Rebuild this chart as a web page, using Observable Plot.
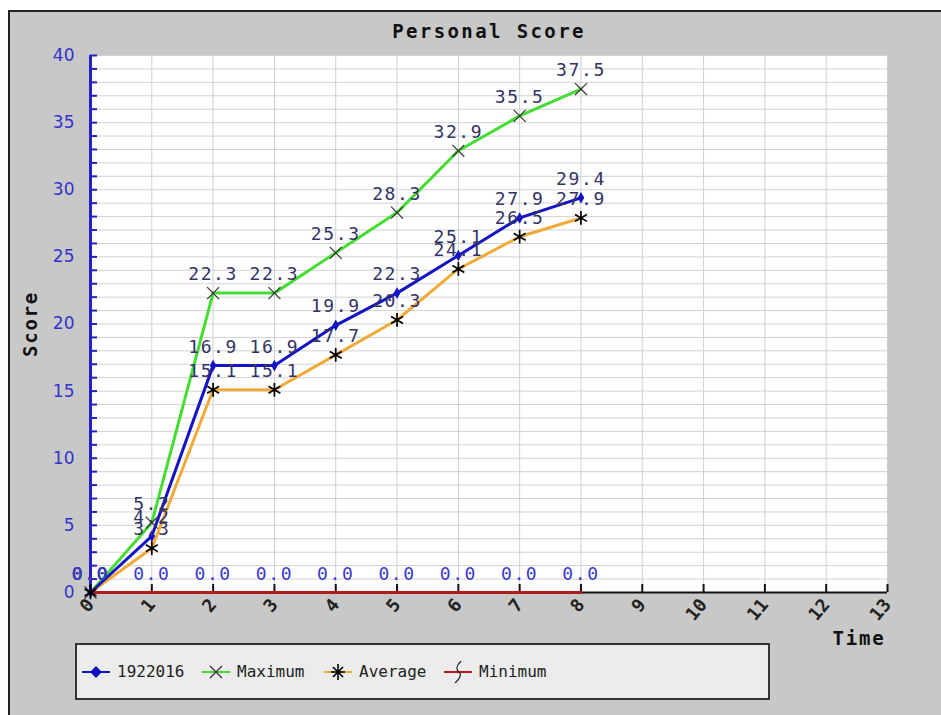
<!DOCTYPE html>
<html><head><meta charset="utf-8">
<script src="https://cdn.jsdelivr.net/npm/d3@7"></script>
<script src="https://cdn.jsdelivr.net/npm/@observablehq/plot@0.6"></script>
<style>
body{margin:0;background:#fff;}
#wrap{position:relative;width:941px;height:715px;overflow:hidden;}
#bg{position:absolute;left:8px;top:10px;right:0;bottom:0;background:#c8c8c8;border-left:2px solid #222;border-top:2px solid #222;}
#chart{position:absolute;left:0;top:0;}
#legend{position:absolute;left:75px;top:643px;width:691px;height:53px;background:#ececec;border:2px solid #333;font-family:"DejaVu Sans Mono";font-size:16px;color:#222;}
.item{position:absolute;top:0;height:53px;display:flex;align-items:center;}
.item svg{margin-right:6px;}
</style></head><body>
<div id="wrap"><div id="bg"></div><div id="chart"></div><div id="legend"></div></div>
<script>
const title = "Personal Score";
const xLabel = "Time";
const yLabel = "Score";
const times = [0, 1, 2, 3, 4, 5, 6, 7, 8];
const seriesNames = ["1922016", "Maximum", "Average", "Minimum"];
const student = [0, 4.2, 16.9, 16.9, 19.9, 22.3, 25.1, 27.9, 29.4];
const maximum = [0, 5.2, 22.3, 22.3, 25.3, 28.3, 32.9, 35.5, 37.5];
const average = [0, 3.3, 15.1, 15.1, 17.7, 20.3, 24.1, 26.5, 27.9];
const minimum = [0, 0, 0, 0, 0, 0, 0, 0, 0];
const xTicks = [0, 1, 2, 3, 4, 5, 6, 7, 8, 9, 10, 11, 12, 13];
const yMinorTicks = d3.range(0, 41, 1);
const yTickLabels = [0, 5, 10, 15, 20, 25, 30, 35, 40];

const colors = {"1922016": "#1414c4", "Maximum": "#44dd33", "Average": "#f0aa38", "Minimum": "#b01c1c"};
const valuesBySeries = {"1922016": student, "Maximum": maximum, "Average": average, "Minimum": minimum};
const rowsFor = name => times.map((t, j) => ({series: name, time: t, score: valuesBySeries[name][j]}));
const rows = {};
for (const n of seriesNames) rows[n] = rowsFor(n);

const monoLabel = {fontFamily: "DejaVu Sans Mono", fontSize: 18, dy: -13, lineAnchor: "bottom"};
const labelOf = d => d.score.toFixed(1);

const chart = Plot.plot({
  width: 941,
  height: 640,
  marginLeft: 90,
  marginRight: 54,
  marginTop: 55,
  marginBottom: 48,
  style: {background: "transparent", overflow: "visible"},
  x: {domain: [0, 13]},
  y: {domain: [0, 40]},
  marks: [
    Plot.frame({fill: "white", stroke: null}),
    Plot.ruleY(yMinorTicks.slice(1), {stroke: "#d2d2d2", strokeWidth: 1}),
    Plot.ruleX(xTicks.slice(1), {stroke: "#cfcfcf", strokeWidth: 1}),
    // y axis ticks (inward) and line
    Plot.axisY({ticks: yMinorTicks, tickSize: -7, tickFormat: () => "", stroke: "#2222c0", strokeWidth: 2, label: null}),
    Plot.ruleX([0], {stroke: "#2222c0", strokeWidth: 3}),
    Plot.axisY({ticks: yTickLabels, tickSize: 0, tickPadding: 16, fill: "#3333cc", fontFamily: "DejaVu Sans", fontSize: 17, label: null}),
    // x axis
    Plot.axisX({ticks: xTicks, tickSize: -8, tickFormat: () => "", stroke: "#111", strokeWidth: 2, label: null}),
    Plot.ruleY([0], {stroke: "#111", strokeWidth: 2}),
    Plot.axisX({ticks: xTicks, tickSize: 0, tickPadding: 9, tickRotate: -50, fill: "#222", fontFamily: "DejaVu Sans Mono", fontWeight: "bold", fontSize: 18, label: null}),
    // lines
    Plot.line(rows["Maximum"], {x: "time", y: "score", stroke: colors["Maximum"], strokeWidth: 3}),
    Plot.line(rows["Average"], {x: "time", y: "score", stroke: colors["Average"], strokeWidth: 3}),
    Plot.line(rows["1922016"], {x: "time", y: "score", stroke: colors["1922016"], strokeWidth: 3}),
    Plot.line(rows["Minimum"], {x: "time", y: "score", stroke: colors["Minimum"], strokeWidth: 3}),
    // markers
    Plot.dot(rows["1922016"], {x: "time", y: "score", symbol: "diamond", r: 3.5, fill: colors["1922016"]}),
    Plot.dot(rows["Maximum"], {x: "time", y: "score", symbol: "times", r: 5.5, stroke: "#333", strokeWidth: 1.2}),
    Plot.dot(rows["Average"], {x: "time", y: "score", symbol: "asterisk", r: 6.5, stroke: "#000", strokeWidth: 1.7}),
    // value labels (text marks 1-4)
    Plot.text(rows["1922016"], {x: "time", y: "score", text: labelOf, fill: "#333366", ...monoLabel}),
    Plot.text(rows["Maximum"], {x: "time", y: "score", text: labelOf, fill: "#333366", ...monoLabel}),
    Plot.text(rows["Average"], {x: "time", y: "score", text: labelOf, fill: "#333366", ...monoLabel}),
    Plot.text(rows["Minimum"], {x: "time", y: "score", text: labelOf, fill: "#3a3ad0", ...monoLabel}),
    // titles (text marks 5-7)
    Plot.text([title], {frameAnchor: "top", textAnchor: "middle", dy: -18, lineAnchor: "bottom", fontFamily: "DejaVu Sans Mono", fontWeight: "bold", fontSize: 19, fill: "#111"}),
    Plot.text([xLabel], {frameAnchor: "bottom-right", textAnchor: "end", dx: -2, dy: 52, lineAnchor: "bottom", fontFamily: "DejaVu Sans Mono", fontWeight: "bold", fontSize: 19, fill: "#111"}),
    Plot.text([yLabel], {frameAnchor: "left", textAnchor: "middle", dx: -60, rotate: -90, fontFamily: "DejaVu Sans Mono", fontWeight: "bold", fontSize: 19, fill: "#111"})
  ]
});
// letter spacing for the wide bitmap-like fonts of the original
const textGroups = chart.querySelectorAll('g[aria-label="text"]');
const spacing = [1.6, 1.6, 1.6, 1.6, 2.4, 1.8, 1.8];
textGroups.forEach((g, i) => { if (spacing[i] != null) g.style.letterSpacing = spacing[i] + "px"; });
document.getElementById("chart").appendChild(chart);

// legend
const legend = document.getElementById("legend");
const legendX = [4, 124, 246, 366];
const symbolSvg = {
  "1922016": c => `<path d="M15,5 L21,11 L15,17 L9,11 Z" fill="${c}"/>`,
  "Maximum": c => `<path d="M9,5 L21,17 M21,5 L9,17" stroke="#333" stroke-width="1.3" fill="none"/>`,
  "Average": c => `<path d="M15,3 V19 M8,11 H22 M10,6 L20,16 M20,6 L10,16" stroke="#000" stroke-width="1.6" fill="none"/>`,
  "Minimum": c => `<path d="M18,0 Q11,7 16,11 Q20,15 12,22" stroke="#222" stroke-width="1.2" fill="none"/>`
};
seriesNames.forEach((name, i) => {
  const el = document.createElement("div");
  el.className = "item";
  el.style.left = legendX[i] + "px";
  const c = colors[name];
  el.innerHTML = `<svg width="30" height="22"><line x1="1" y1="11" x2="29" y2="11" stroke="${c}" stroke-width="2"/>${symbolSvg[name](c)}</svg><span>${name}</span>`;
  legend.appendChild(el);
});
</script>
</body></html>
